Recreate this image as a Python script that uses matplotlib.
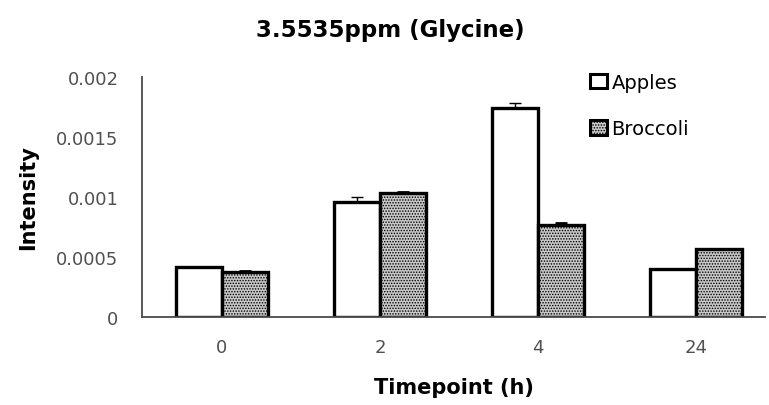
import matplotlib.pyplot as plt
import numpy as np

plt.rcParams['font.family'] = ['DejaVu Sans']
plt.rcParams['hatch.color'] = '#7a7a7a'
plt.rcParams['hatch.linewidth'] = 0.7

# Dados
timepoints = ['0', '2', '4', '24']
apples = [0.000417, 0.000958, 0.00174, 0.000400]
apples_err = [0.0, 0.00004, 0.00004, 0.0]
broccoli = [0.000375, 0.00103, 0.000767, 0.000567]
broccoli_err = [0.00001, 0.00001, 0.000015, 0.0]

x = np.arange(len(timepoints))
w = 0.29

fig = plt.figure(figsize=(7.69, 4.06), dpi=100)
ax = fig.add_axes([142 / 769, 1 - 318 / 406, (765 - 142) / 769, 240 / 406])

ax.bar(x - w / 2, apples, w, color='white', edgecolor='black', linewidth=2.4,
       label='Apples', zorder=2)
ax.errorbar(x - w / 2, apples, yerr=[np.zeros(4), apples_err], fmt='none',
            ecolor='black', elinewidth=1, capsize=4.5, zorder=3)
ax.bar(x + w / 2, broccoli, w, color='#c8c8c8', edgecolor='black', linewidth=2.4,
       hatch='......', label='Broccoli', zorder=2)
ax.errorbar(x + w / 2, broccoli, yerr=[np.zeros(4), broccoli_err], fmt='none',
            ecolor='black', elinewidth=1.5, capsize=4.5, capthick=2, zorder=3)

ax.set_xlim(-0.506, 3.437)
ax.set_ylim(0, 0.002)
ax.set_yticks([0, 0.0005, 0.001, 0.0015, 0.002])
ax.set_yticklabels(['0', '0.0005', '0.001', '0.0015', '0.002'])
ax.set_xticks(x)
ax.set_xticklabels(timepoints)
ax.tick_params(length=0, labelsize=13, colors='#505050')
ax.tick_params(axis='x', pad=15)
ax.tick_params(axis='y', pad=17)

for s in ['top', 'right']:
    ax.spines[s].set_visible(False)
for s in ['left', 'bottom']:
    ax.spines[s].set_color('#4a4a4a')
    ax.spines[s].set_linewidth(1.3)

ax.set_xlabel('Timepoint (h)', fontsize=15, fontweight='bold', labelpad=15)
ax.set_ylabel('Intensity', fontsize=15, fontweight='bold', labelpad=13)
fig.text(0.507, 1 - 30 / 406, '3.5535ppm (Glycine)', fontsize=16.5,
         fontweight='bold', ha='center', va='center')

leg = fig.legend(loc='upper left', bbox_to_anchor=(590 / 769, 1 - 74 / 406),
                 frameon=False, fontsize=14, handlelength=0.85, handleheight=0.75,
                 handletextpad=0.25, labelspacing=1.4, borderpad=0,
                 borderaxespad=0)
for h in leg.legend_handles:
    h.set_linewidth(2.2)

fig.savefig('out.png', dpi=100)
